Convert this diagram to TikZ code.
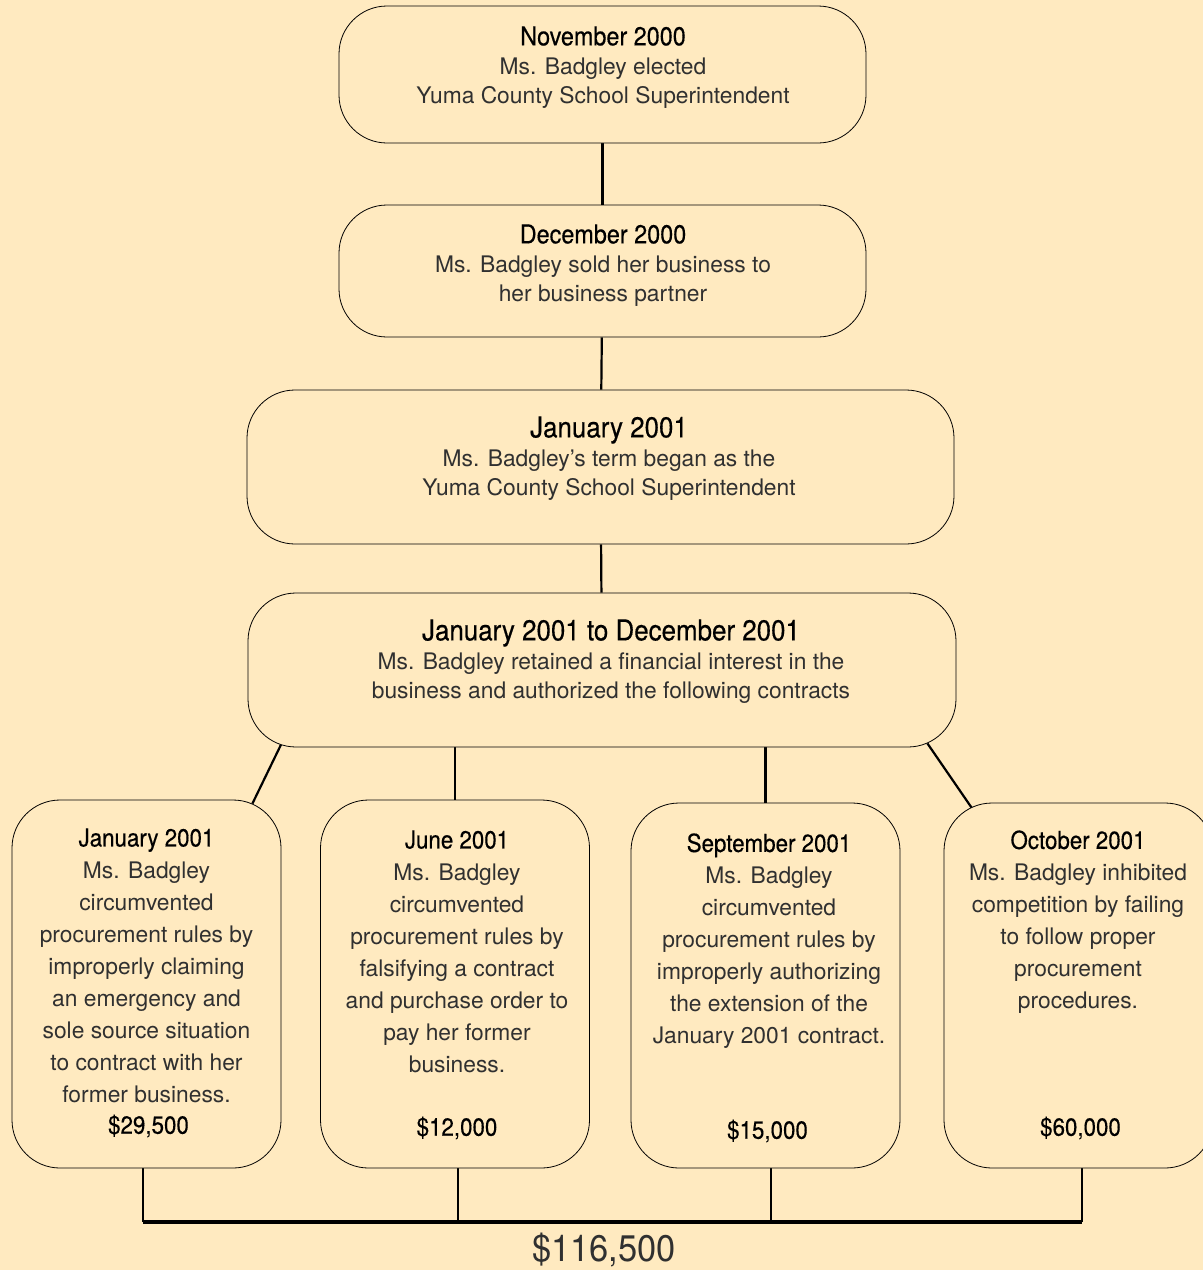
\documentclass[tikz,border=0pt]{standalone}
\usepackage{fontspec}
\setmainfont{TeX Gyre Heros}
\newfontfamily\headfont[FakeStretch=0.9,FakeBold=0.4]{TeX Gyre Heros}
\newfontfamily\sumfont[FakeStretch=0.93]{TeX Gyre Heros}
\usetikzlibrary{positioning,backgrounds}
\definecolor{parchment}{RGB}{255,234,192}
\definecolor{inkgray}{RGB}{48,48,48}
\newcommand{\hd}[2]{{\headfont\fontsize{#1}{#1}\selectfont\color{black}#2}}
\tikzset{
  event/.style={draw=black,line width=0.4pt,rounded corners=24pt,fill=parchment,inner sep=0pt},
  blurb/.style={anchor=north,align=center,inner sep=0pt,text=inkgray,font=\fontsize{11.4}{14.5}\selectfont},
  lowblurb/.style={blurb,font=\fontsize{11.4}{16}\selectfont},
  link/.style={line width=1.1pt},
  amount/.style={inner sep=0pt,font=\headfont\fontsize{12.4}{14}\selectfont}
}

\begin{document}
\begin{tikzpicture}[x=0.5pt,y=-0.5pt]
\useasboundingbox (0,0) rectangle (1203,1270);
% chain of events
\node[event,minimum width=263.5pt,minimum height=68.5pt] (elect) at (602.5,74.5) {};
\node[event,minimum width=263.5pt,minimum height=66pt] (sold) at (602.5,271) {};
\node[event,minimum width=353.5pt,minimum height=77pt] (term) at (600.5,467) {};
\node[event,minimum width=354pt,minimum height=77pt] (span) at (602,670) {};
\node[blurb] (elect-t) at (603,26) {\hd{13}{November 2000}\\Ms. Badgley elected\\Yuma County School Superintendent};
\node[blurb] (sold-t) at (603,224) {\hd{13}{December 2000}\\Ms. Badgley sold her business to\\her business partner};
\node[blurb] (term-t) at (609,416) {\hd{14.4}{January 2001}\\Ms. Badgley’s term began as the\\Yuma County School Superintendent};
\node[blurb] (span-t) at (611,619) {\hd{14.4}{January 2001 to December 2001}\\Ms. Badgley retained a financial interest in the\\business and authorized the following contracts};
% contracts
\foreach \nm/\cx/\cy/\bh/\amt/\ay in {jan/146.5/984/184/{\$29,500}/1126, june/455/984/184/{\$12,000}/1128,
    sept/765.5/985.5/182.5/{\$15,000}/1131, oct/1078.5/985.5/182.5/{\$60,000}/1128} {
  \node[event,minimum width=134.5pt,minimum height=\bh pt] (\nm) at (\cx,\cy) {};
  \node[amount] (\nm-amt) at ([xshift=1pt]\cx,\ay) {\amt};
}
\node[lowblurb] (jan-t) at (146.5,828) {\hd{12.4}{January 2001}\\Ms. Badgley\\circumvented\\procurement rules by\\improperly claiming\\an emergency and\\sole source situation\\to contract with her\\former business.};
\node[lowblurb] (june-t) at (457,830) {\hd{12.4}{June 2001}\\Ms. Badgley\\circumvented\\procurement rules by\\falsifying a contract\\and purchase order to\\pay her former\\business.};
\node[lowblurb] (sept-t) at (769,833) {\hd{12.4}{September 2001}\\Ms. Badgley\\circumvented\\procurement rules by\\improperly authorizing\\the extension of the\\January 2001 contract.};
\node[lowblurb] (oct-t) at (1078,830) {\hd{12.4}{October 2001}\\Ms. Badgley inhibited\\competition by failing\\to follow proper\\procurement\\procedures.};
% total
\coordinate (bar) at (604,1222);
\node[font=\sumfont\fontsize{18.5}{19}\selectfont,text=inkgray,inner sep=0pt] (sum) at (604,1250) {\$116,500};
\begin{scope}[on background layer]
  \fill[parchment] (0,0) rectangle (1203,1270);
  \draw[link] (elect) -- (sold);
  \draw[link] (sold) -- (term);
  \draw[link] (term) -- (span);
  \draw[link] ([xshift=17pt,yshift=2pt]span.south west) -- ([xshift=-14.5pt,yshift=-2pt]jan.north east);
  \draw[link] (june.north) -- (june.north |- span.south);
  \draw[link] (sept.north) -- (sept.north |- span.south);
  \draw[link] ([xshift=-14.5pt,yshift=2pt]span.south east) -- ([xshift=15pt,yshift=-4pt]oct.north west);
  \foreach \nm/\dx in {jan/-1.75,june/1.5,sept/2.75,oct/1.75}
    \draw[link] ([xshift=\dx pt]\nm.south) -- ([xshift=\dx pt]\nm.south |- bar);
  \draw[line width=1.6pt] ([xshift=-1.75pt]jan.south |- bar) -- ([xshift=1.75pt]oct.south |- bar);
\end{scope}
\end{tikzpicture}
\end{document}
